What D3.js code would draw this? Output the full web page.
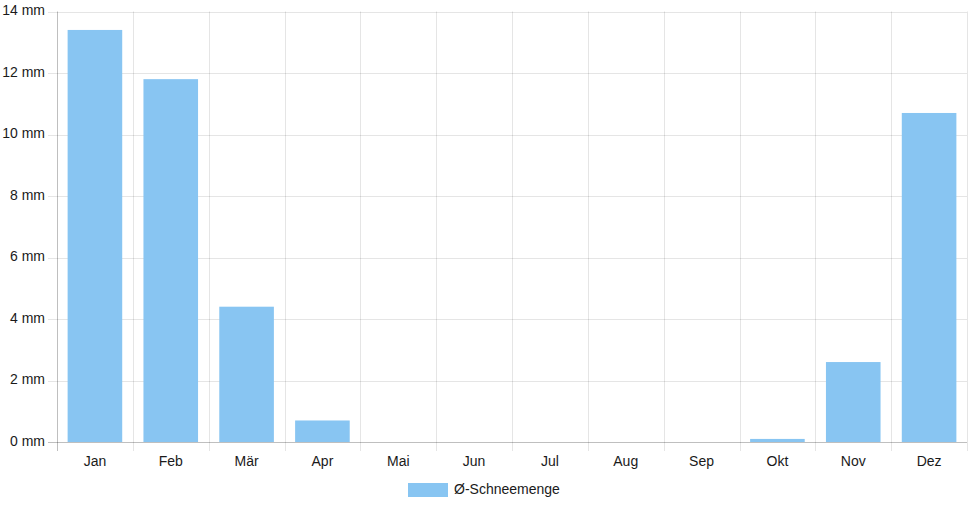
<!DOCTYPE html>
<html>
<head>
<meta charset="utf-8">
<script src="https://cdn.jsdelivr.net/npm/d3@7"></script>
<style>
  body { margin: 0; background: #fff; }
  svg { display: block; font-family: "Liberation Sans", Arial, sans-serif; }
</style>
</head>
<body>
<script>
const months = ['Jan', 'Feb', 'Mär', 'Apr', 'Mai', 'Jun', 'Jul', 'Aug', 'Sep', 'Okt', 'Nov', 'Dez']
const snow = [13.4, 11.8, 4.4, 0.7, 0, 0, 0, 0, 0, 0.1, 2.6, 10.7]
const yTicks = [0, 2, 4, 6, 8, 10, 12, 14]
const seriesName = 'Ø-Schneemenge'

const width = 968, height = 508
const plotLeft = 57, plotRight = 967, plotTop = 11.5, plotBottom = 442

const svg = d3.select('body').append('svg').attr('width', width).attr('height', height)

const x = d3.scaleBand().domain(months).range([plotLeft, plotRight])
const y = d3.scaleLinear().domain([0, 14]).range([plotBottom, plotTop])

const grid = 'rgba(0,0,0,0.1)'
const fs = 14

// horizontal grid + y labels
svg.selectAll('line.hgrid')
    .data(yTicks)
    .enter().append('line')
        .attr('class', 'hgrid')
        .attr('x1', plotLeft - 9)
        .attr('x2', plotRight)
        .attr('y1', d => Math.round(y(d)) + 0.5)
        .attr('y2', d => Math.round(y(d)) + 0.5)
        .attr('stroke', d => d === 0 ? 'rgba(0,0,0,0.25)' : grid)

svg.selectAll('text.ylab')
    .data(yTicks)
    .enter().append('text')
        .attr('class', 'ylab')
        .attr('x', plotLeft - 12)
        .attr('y', d => y(d))
        .attr('text-anchor', 'end')
        .attr('dominant-baseline', 'middle')
        .attr('font-size', fs)
        .attr('fill', '#1a1a1a')
        .text(d => d + ' mm')

// vertical grid at category boundaries
const bounds = months.map(m => x(m)).concat([plotRight])
svg.selectAll('line.vgrid')
    .data(bounds)
    .enter().append('line')
        .attr('class', 'vgrid')
        .attr('x1', d => Math.round(d) + 0.5)
        .attr('x2', d => Math.round(d) + 0.5)
        .attr('y1', plotTop)
        .attr('y2', plotBottom + 9)
        .attr('stroke', (d, i) => i === 0 ? 'rgba(0,0,0,0.25)' : grid)

// bars (Chart.js-like 0.9 * 0.8 of category)
const bw = x.bandwidth() * 0.72
svg.selectAll('rect.bar')
    .data(snow)
    .enter().append('rect')
        .attr('class', 'bar')
        .attr('fill', '#88c5f2')
        .attr('x', (d, i) => x(months[i]) + (x.bandwidth() - bw) / 2)
        .attr('width', bw)
        .attr('y', d => y(d))
        .attr('height', d => plotBottom - y(d))

// x labels
svg.selectAll('text.xlab')
    .data(months)
    .enter().append('text')
        .attr('class', 'xlab')
        .attr('x', d => x(d) + x.bandwidth() / 2)
        .attr('y', 462)
        .attr('text-anchor', 'middle')
        .attr('dominant-baseline', 'middle')
        .attr('font-size', fs)
        .attr('fill', '#1a1a1a')
        .text(d => d)

// legend
const lg = svg.append('g').attr('transform', 'translate(408,483)')
lg.append('rect').attr('width', 40).attr('height', 14).attr('fill', '#88c5f2')
lg.append('text')
    .attr('x', 46)
    .attr('y', 7.5)
    .attr('dominant-baseline', 'middle')
    .attr('font-size', fs)
    .attr('fill', '#1a1a1a')
    .text(seriesName)
</script>
</body>
</html>
